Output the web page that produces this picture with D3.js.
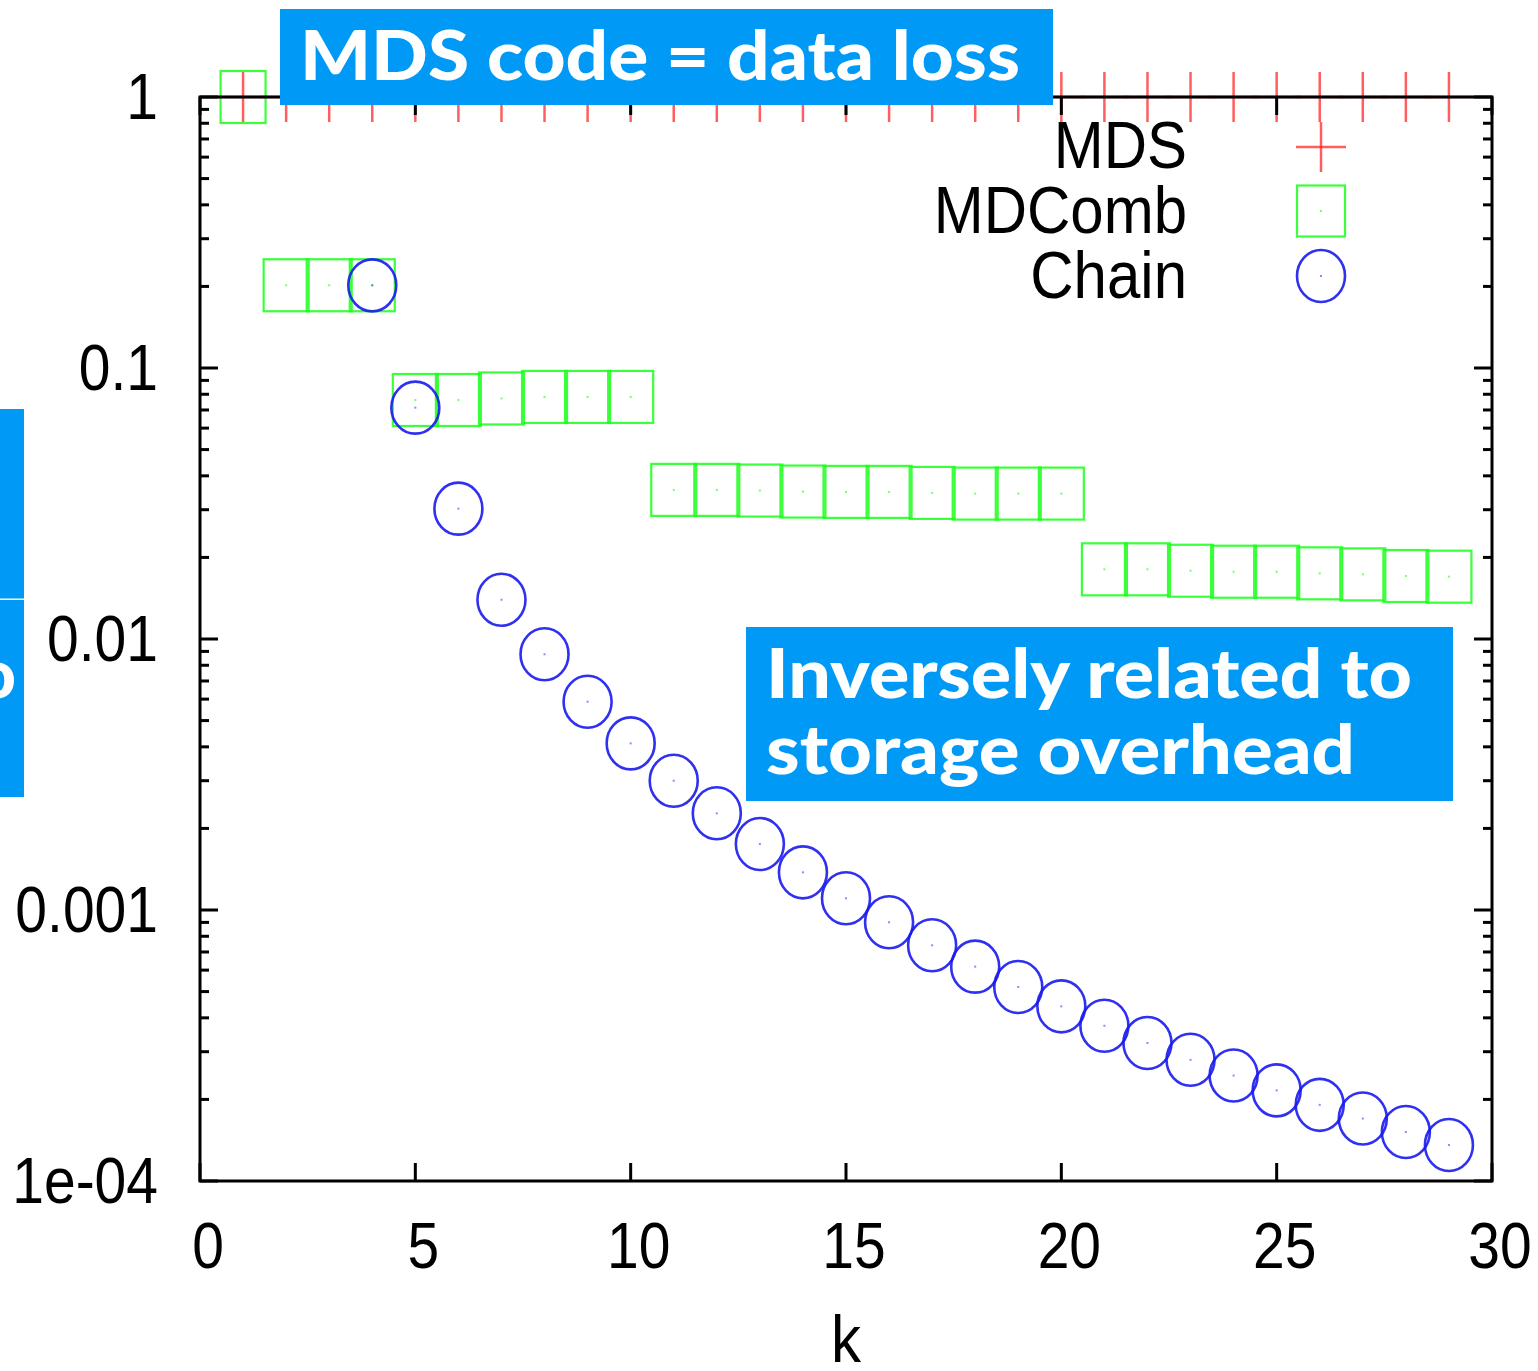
<!DOCTYPE html>
<html>
<head>
<meta charset="utf-8">
<script src="https://cdn.jsdelivr.net/npm/d3@7"></script>
<style>
  html, body { margin: 0; padding: 0; background: #ffffff; }
  svg { display: block; }
</style>
</head>
<body>
<svg id="chart" width="1538" height="1371"></svg>
<script>
// ---------------- data ----------------
const kValues = [1, 2, 3, 4, 5, 6, 7, 8, 9, 10, 11, 12, 13, 14, 15, 16, 17, 18, 19, 20, 21, 22, 23, 24, 25, 26, 27, 28, 29];
const mdsValues = [1, 1, 1, 1, 1, 1, 1, 1, 1, 1, 1, 1, 1, 1, 1, 1, 1, 1, 1, 1, 1, 1, 1, 1, 1, 1, 1, 1, 1];
const mdcombValues = [1, 0.202, 0.202, 0.202,
  0.0762, 0.0762, 0.0772, 0.0782, 0.0782, 0.0782,
  0.0355, 0.0355, 0.0353, 0.0350, 0.0349, 0.0349, 0.0346, 0.0344, 0.0344, 0.0344,
  0.01808, 0.01808, 0.01786, 0.01771, 0.01771, 0.01747, 0.01732, 0.01708, 0.01698];
const chainValues = [null, null, null, 0.2018,
  0.0714, 0.03027, 0.01396, 0.00878, 0.00587, 0.00412,
  0.00300, 0.002274, 0.001751, 0.001377, 0.001105, 0.000901, 0.000741, 0.000618, 0.000520, 0.000441,
  0.000374, 0.000323, 0.000280, 0.000245, 0.000216, 0.000191, 0.000170, 0.0001517, 0.0001358];
const xTickValues = [0, 5, 10, 15, 20, 25, 30];
const xTickLabels = ["0", "5", "10", "15", "20", "25", "30"];
const yTickValues = [1, 0.1, 0.01, 0.001, 0.0001];
const yTickLabels = ["1", "0.1", "0.01", "0.001", "1e-04"];
const seriesNames = ["MDS", "MDComb", "Chain"];
const xAxisTitle = "k";
const note1 = "MDS code = data loss";
const note2Lines = ["Inversely related to", "storage overhead"];

// ---------------- layout ----------------
const L = 200, R = 1492, T = 97, B = 1181;
const svg = d3.select("#chart");
const x = d3.scaleLinear().domain([0, 30]).range([L, R]);
const y = d3.scaleLog().domain([1e-4, 1]).range([B, T]);

const RED = "#ff1a1a", GREEN = "#1aff1a", BLUE = "#1a1aee", NOTE = "#0099f5";
const tickFont = "'Liberation Sans', Arial, sans-serif";
const noteFont = "Lato, 'Open Sans', sans-serif";

// ---------------- markers ----------------
const SQ_W = 45, SQ_H = 52, C_RX = 24, C_RY = 26, P = 25;
function plus(g, cx, cy) {
  g.append("line").attr("x1", cx - P).attr("x2", cx + P).attr("y1", cy).attr("y2", cy)
    .attr("stroke", RED).attr("stroke-width", 2.5).attr("stroke-opacity", 0.7);
  g.append("line").attr("x1", cx).attr("x2", cx).attr("y1", cy - P).attr("y2", cy + P)
    .attr("stroke", RED).attr("stroke-width", 2.5).attr("stroke-opacity", 0.7);
}
function square(g, cx, cy, w, h) {
  g.append("rect").attr("x", cx - w / 2).attr("y", cy - h / 2).attr("width", w).attr("height", h)
    .attr("fill", "none").attr("stroke", GREEN).attr("stroke-width", 2.2).attr("stroke-opacity", 0.85);
  g.append("rect").attr("x", cx - 1).attr("y", cy - 1).attr("width", 2).attr("height", 2)
    .attr("fill", GREEN).attr("opacity", 0.6);
}
function circle(g, cx, cy, rx, ry) {
  g.append("ellipse").attr("cx", cx).attr("cy", cy).attr("rx", rx).attr("ry", ry)
    .attr("fill", "none").attr("stroke", BLUE).attr("stroke-width", 2.6).attr("stroke-opacity", 0.9);
  g.append("rect").attr("x", cx - 1).attr("y", cy - 1).attr("width", 2).attr("height", 2)
    .attr("fill", BLUE).attr("opacity", 0.5);
}

const dataG = svg.append("g");
kValues.forEach((k, i) => plus(dataG, x(k), y(mdsValues[i])));
kValues.forEach((k, i) => square(dataG, x(k), y(mdcombValues[i]), SQ_W, SQ_H));
kValues.forEach((k, i) => { if (chainValues[i] != null) circle(dataG, x(k), y(chainValues[i]), C_RX, C_RY); });

// ---------------- axes / frame (drawn over the data, as in the original) ----------------
const axisG = svg.append("g");
const minorTicks = y.ticks().filter(v => v >= 1e-4 && v <= 1);
minorTicks.forEach(v => {
  const major = Math.abs(Math.log10(v) - Math.round(Math.log10(v))) < 1e-9;
  const len = major ? 18 : 9;
  axisG.append("line").attr("x1", L).attr("x2", L + len).attr("y1", y(v)).attr("y2", y(v))
    .attr("stroke", "#000").attr("stroke-width", 3);
  axisG.append("line").attr("x1", R).attr("x2", R - len).attr("y1", y(v)).attr("y2", y(v))
    .attr("stroke", "#000").attr("stroke-width", 3);
});
xTickValues.forEach(v => {
  axisG.append("line").attr("x1", x(v)).attr("x2", x(v)).attr("y1", B).attr("y2", B - 18)
    .attr("stroke", "#000").attr("stroke-width", 3);
  axisG.append("line").attr("x1", x(v)).attr("x2", x(v)).attr("y1", T).attr("y2", T + 18)
    .attr("stroke", "#000").attr("stroke-width", 3);
});
axisG.append("rect").attr("x", L).attr("y", T).attr("width", R - L).attr("height", B - T)
  .attr("fill", "none").attr("stroke", "#000").attr("stroke-width", 3);

// tick labels
yTickValues.forEach((v, i) => {
  axisG.append("text")
    .attr("transform", `translate(158,${y(v) + 22}) scale(1,1.14)`)
    .attr("text-anchor", "end").attr("font-family", tickFont).attr("font-size", 57)
    .attr("fill", "#000").text(yTickLabels[i]);
});
xTickValues.forEach((v, i) => {
  axisG.append("text")
    .attr("transform", `translate(${x(v) + 8},1268) scale(1,1.14)`)
    .attr("text-anchor", "middle").attr("font-family", tickFont).attr("font-size", 57)
    .attr("fill", "#000").text(xTickLabels[i]);
});
axisG.append("text")
  .attr("transform", `translate(846,1362) scale(1,1.12)`)
  .attr("text-anchor", "middle").attr("font-family", tickFont).attr("font-size", 60)
  .attr("fill", "#000").text(xAxisTitle);

// ---------------- legend ----------------
const legG = svg.append("g");
const legBase = [168, 233, 298];
seriesNames.forEach((name, i) => {
  legG.append("text")
    .attr("transform", `translate(1187,${legBase[i]}) scale(1,1.12)`)
    .attr("text-anchor", "end").attr("font-family", tickFont).attr("font-size", 60)
    .attr("fill", "#000").text(name);
});
plus(legG, 1321, 147);
square(legG, 1321, 211, 48, 51);
circle(legG, 1321, 276, 24, 26);

// ---------------- annotation boxes ----------------
const noteG = svg.append("g");
noteG.append("rect").attr("x", 280).attr("y", 9).attr("width", 773).attr("height", 96).attr("fill", NOTE);
noteG.append("text").attr("x", 300).attr("y", 80)
  .attr("font-family", noteFont).attr("font-weight", 900).attr("font-size", 68)
  .attr("fill", "#fff").attr("textLength", 720).attr("lengthAdjust", "spacingAndGlyphs").text(note1);

noteG.append("rect").attr("x", 746).attr("y", 627).attr("width", 707).attr("height", 174).attr("fill", NOTE);
noteG.append("text").attr("x", 766).attr("y", 698)
  .attr("font-family", noteFont).attr("font-weight", 900).attr("font-size", 68)
  .attr("fill", "#fff").attr("textLength", 646).attr("lengthAdjust", "spacingAndGlyphs").text(note2Lines[0]);
noteG.append("text").attr("x", 766).attr("y", 774)
  .attr("font-family", noteFont).attr("font-weight", 900).attr("font-size", 68)
  .attr("fill", "#fff").attr("textLength", 589).attr("lengthAdjust", "spacingAndGlyphs").text(note2Lines[1]);

// partially visible box on left edge
const clip = svg.append("defs").append("clipPath").attr("id", "leftclip");
clip.append("rect").attr("x", 0).attr("y", 409).attr("width", 24).attr("height", 388);
noteG.append("rect").attr("x", 0).attr("y", 409).attr("width", 24).attr("height", 189.5).attr("fill", NOTE);
noteG.append("rect").attr("x", 0).attr("y", 600).attr("width", 24).attr("height", 197).attr("fill", NOTE);
noteG.append("text").attr("x", 16).attr("y", 698).attr("text-anchor", "end")
  .attr("clip-path", "url(#leftclip)")
  .attr("font-family", noteFont).attr("font-weight", 900).attr("font-size", 68)
  .attr("fill", "#fff").text("o");
</script>
</body>
</html>
